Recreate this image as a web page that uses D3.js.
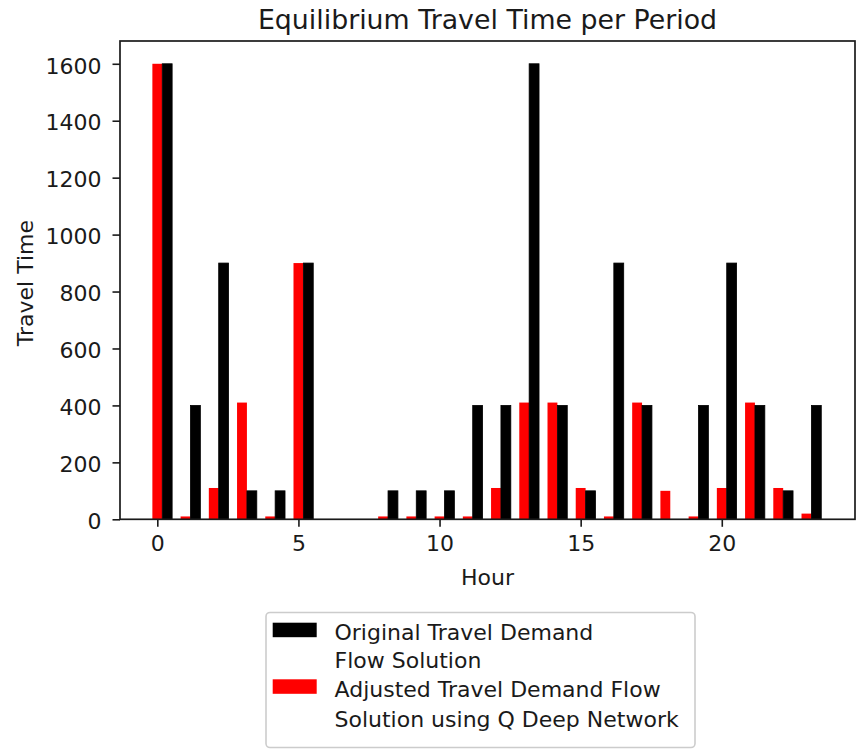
<!DOCTYPE html>
<html>
<head>
<meta charset="utf-8">
<script src="https://cdn.jsdelivr.net/npm/d3@7"></script>
<style>
  html, body { margin: 0; padding: 0; background: #fff; }
  svg { display: block; }
  text { font-family: "DejaVu Sans", sans-serif; fill: #1a1a1a; }
</style>
</head>
<body>
<svg id="chart" width="864" height="751"></svg>
<script>
const hours = [0,1,2,3,4,5,6,7,8,9,10,11,12,13,14,15,16,17,18,19,20,21,22,23];
const original = [1600,400,900,100,100,900,0,0,100,100,100,400,400,1600,400,100,900,400,0,400,900,400,100,400];
const adjusted = [1600,10,110,410,10,900,0,0,10,10,10,10,110,410,410,110,10,410,100,10,110,410,110,20];
const xTicks = [0,5,10,15,20];
const yTicks = [0,200,400,600,800,1000,1200,1400,1600];
const seriesNames = ["Original Travel Demand\nFlow Solution", "Adjusted Travel Demand Flow\nSolution using Q Deep Network"];
const seriesColors = ["#000000", "#ff0000"];

const L = 120, R = 855, T = 41, B = 519.3;
const barW = 0.35;
const svg = d3.select("#chart");

const x = d3.scaleLinear().domain([-1.322, 24.72]).range([L, R]);
const y = d3.scaleLinear().domain([0, 1680]).range([B, T]);

// bars: adjusted (red) centered at h, original (black) centered at h+0.35
svg.append("g").selectAll("rect")
  .data(hours.map((h,i)=>({h, v: adjusted[i]})))
  .join("rect")
  .attr("x", d => x(d.h - barW/2))
  .attr("width", d => x(barW) - x(0))
  .attr("y", d => y(d.v))
  .attr("height", d => y(0) - y(d.v))
  .attr("fill", seriesColors[1]);

svg.append("g").selectAll("rect")
  .data(hours.map((h,i)=>({h, v: original[i]})))
  .join("rect")
  .attr("x", d => x(d.h + barW/2))
  .attr("width", d => x(barW) - x(0))
  .attr("y", d => y(d.v))
  .attr("height", d => y(0) - y(d.v))
  .attr("fill", seriesColors[0])
  .attr("stroke", d => d.v > 0 ? "#000" : "none")
  .attr("stroke-width", 0.8);

// axes
const fs = 22;
const xAxis = svg.append("g").attr("transform", `translate(0,${B})`)
  .call(d3.axisBottom(x).tickValues(xTicks).tickSize(7.5).tickPadding(8).tickFormat(d3.format("d")));
const yAxis = svg.append("g").attr("transform", `translate(${L},0)`)
  .call(d3.axisLeft(y).tickValues(yTicks).tickSize(7.5).tickPadding(11).tickFormat(d3.format("d")));
[xAxis, yAxis].forEach(a => {
  a.select(".domain").remove();
  a.selectAll(".tick line").attr("stroke", "#1a1a1a").attr("stroke-width", 1.6);
  a.selectAll(".tick text").attr("font-family", "DejaVu Sans").attr("font-size", fs).attr("fill", "#1a1a1a");
});
yAxis.selectAll(".tick text").attr("dy", "0.42em");
xAxis.selectAll(".tick text").attr("dy", "0.74em");

// frame
svg.append("rect").attr("x", L).attr("y", T).attr("width", R - L).attr("height", B - T)
  .attr("fill", "none").attr("stroke", "#1a1a1a").attr("stroke-width", 1.7);

// title & labels
svg.append("text").attr("x", (L+R)/2).attr("y", 28.5).attr("text-anchor", "middle")
  .attr("font-size", 26.8).text("Equilibrium Travel Time per Period");
svg.append("text").attr("x", (L+R)/2).attr("y", 584.5).attr("text-anchor", "middle")
  .attr("font-size", fs).text("Hour");
svg.append("text").attr("transform", `translate(33,${(T+B)/2 + 3}) rotate(-90)`).attr("text-anchor", "middle")
  .attr("font-size", fs).text("Travel Time");

// legend
const lg = svg.append("g");
lg.append("rect").attr("x", 266).attr("y", 612.5).attr("width", 429).attr("height", 135)
  .attr("rx", 4).attr("fill", "#fff").attr("stroke", "#cccccc").attr("stroke-width", 1.6);
const entries = [
  {patchY: 622.7, lines: seriesNames[0].split("\n"), base: [639.5, 668], color: seriesColors[0]},
  {patchY: 679.3, lines: seriesNames[1].split("\n"), base: [697, 727], color: seriesColors[1]}
];
entries.forEach(e => {
  lg.append("rect").attr("x", 272.7).attr("y", e.patchY).attr("width", 44).attr("height", 14.5).attr("fill", e.color);
  e.lines.forEach((t, j) => {
    lg.append("text").attr("x", 334.5).attr("y", e.base[j]).attr("font-size", fs).text(t);
  });
});
</script>
</body>
</html>
